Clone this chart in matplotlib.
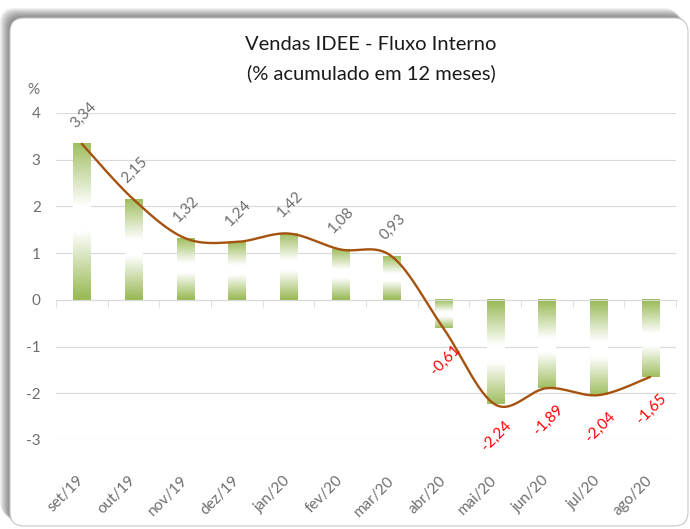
import numpy as np
import matplotlib
matplotlib.use("Agg")
import matplotlib.pyplot as plt
from matplotlib.patches import FancyBboxPatch
from matplotlib.transforms import ScaledTranslation

months = ["set/19", "out/19", "nov/19", "dez/19", "jan/20", "fev/20",
          "mar/20", "abr/20", "mai/20", "jun/20", "jul/20", "ago/20"]
values = [3.34, 2.15, 1.32, 1.24, 1.42, 1.08, 0.93, -0.61, -2.24, -1.89, -2.04, -1.65]
y_ticks = [-3, -2, -1, 0, 1, 2, 3, 4]

plt.rcParams["font.family"] = ["Lato", "DejaVu Sans"]

W, H = 690, 529
fig = plt.figure(figsize=(W / 100, H / 100), dpi=100)

# background card with a soft shadow to the top-left
bg = fig.add_axes([0, 0, 1, 1], zorder=0)
bg.set_xlim(0, W)
bg.set_ylim(H, 0)
bg.axis("off")
for d in range(1, 11):
    bg.add_patch(FancyBboxPatch((10 - d, 18 - d), 678, 508,
                                boxstyle="round,pad=0,rounding_size=14",
                                fc="black", ec="none", alpha=0.055))
bg.add_patch(FancyBboxPatch((10, 18), 678, 508,
                            boxstyle="round,pad=0,rounding_size=14",
                            fc="white", ec="#C8C8C8", lw=0.8))

ax = fig.add_axes([56 / W, 1 - 440 / H, 620 / W, 327 / H], zorder=2)
ax.patch.set_alpha(0)

x = np.arange(len(values))
v = np.array(values)

# gradient bars: green at both ends, white in the middle
t = np.linspace(0, 1, 200)
w = np.clip((np.abs(t - 0.52) - 0.08) / 0.42, 0, 1)
green = np.array([155, 187, 89]) / 255
grad = (w[:, None] * green + (1 - w[:, None]))[:, None, :]
bw = 0.33
for xi, vi in zip(x, v):
    ax.imshow(grad, extent=[xi - bw / 2, xi + bw / 2, 0, vi], origin="lower",
              aspect="auto", interpolation="bilinear", zorder=2)

# smoothed line (Catmull-Rom style, like Excel smoothing)
px = np.concatenate([[x[0]], x, [x[-1]]]).astype(float)
py = np.concatenate([[v[0]], v, [v[-1]]])
sx, sy = [], []
s = np.linspace(0, 1, 30)
for i in range(1, len(px) - 2):
    p0 = np.array([px[i], py[i]])
    p3 = np.array([px[i + 1], py[i + 1]])
    p1 = p0 + (p3 - np.array([px[i - 1], py[i - 1]])) / 6
    p2 = p3 - (np.array([px[i + 2], py[i + 2]]) - p0) / 6
    b = ((1 - s) ** 3)[:, None] * p0 + (3 * (1 - s) ** 2 * s)[:, None] * p1 \
        + (3 * (1 - s) * s ** 2)[:, None] * p2 + (s ** 3)[:, None] * p3
    sx.extend(b[:, 0])
    sy.extend(b[:, 1])
ax.plot(sx, sy, color="#A5520F", lw=1.7, zorder=3, solid_capstyle="round")

# data labels
for xi, vi in zip(x, v):
    lbl = f"{vi:.2f}".replace(".", ",")
    ax.annotate(lbl, (xi, vi), xytext=(1, 21 if vi > 0 else -23),
                textcoords="offset points", ha="center", va="center",
                rotation=45, fontsize=11,
                color="#6E6E6E" if vi > 0 else "#FF0000", zorder=4)

ax.set_xlim(-0.5, len(values) - 0.5)
ax.set_ylim(-3, 4)
ax.set_yticks(y_ticks)
ax.set_yticklabels([str(k) for k in y_ticks])
ax.grid(axis="y", color="#D9D9D9", lw=0.8)
ax.set_axisbelow(True)
ax.tick_params(axis="y", length=0, pad=11, labelsize=11, labelcolor="#6E6E6E")
for side in ["left", "right", "top"]:
    ax.spines[side].set_visible(False)
ax.spines["bottom"].set_position(("data", 0))
ax.spines["bottom"].set_color("#D9D9D9")
ax.set_xticks(np.arange(-0.5, len(values)), minor=True)
ax.set_xticks(x)
ax.tick_params(axis="x", which="major", length=0, labelbottom=False)
ax.tick_params(axis="x", which="minor", length=5, color="#D9D9D9", direction="out")

secax = ax.secondary_xaxis("bottom")
secax.set_xticks(x)
secax.set_xticklabels(months, rotation=45, ha="right", rotation_mode="anchor")
secax.tick_params(length=0, pad=24, labelsize=11, labelcolor="#6E6E6E")
secax.spines["bottom"].set_visible(False)
shift = ScaledTranslation(-5 / 100, 0, fig.dpi_scale_trans)
for lab in secax.get_xticklabels():
    lab.set_transform(lab.get_transform() + shift)

fig.text(371 / W, 1 - 45 / H, "Vendas IDEE - Fluxo Interno", ha="center",
         va="center", fontsize=14.5, color="#1A1A1A")
fig.text(371 / W, 1 - 73 / H, "(% acumulado em 12 meses)", ha="center",
         va="center", fontsize=14.5, color="#1A1A1A")
fig.text(33 / W, 1 - 90 / H, "%", ha="center", va="center", fontsize=11,
         color="#6E6E6E")

fig.savefig("out.png", dpi=100)
